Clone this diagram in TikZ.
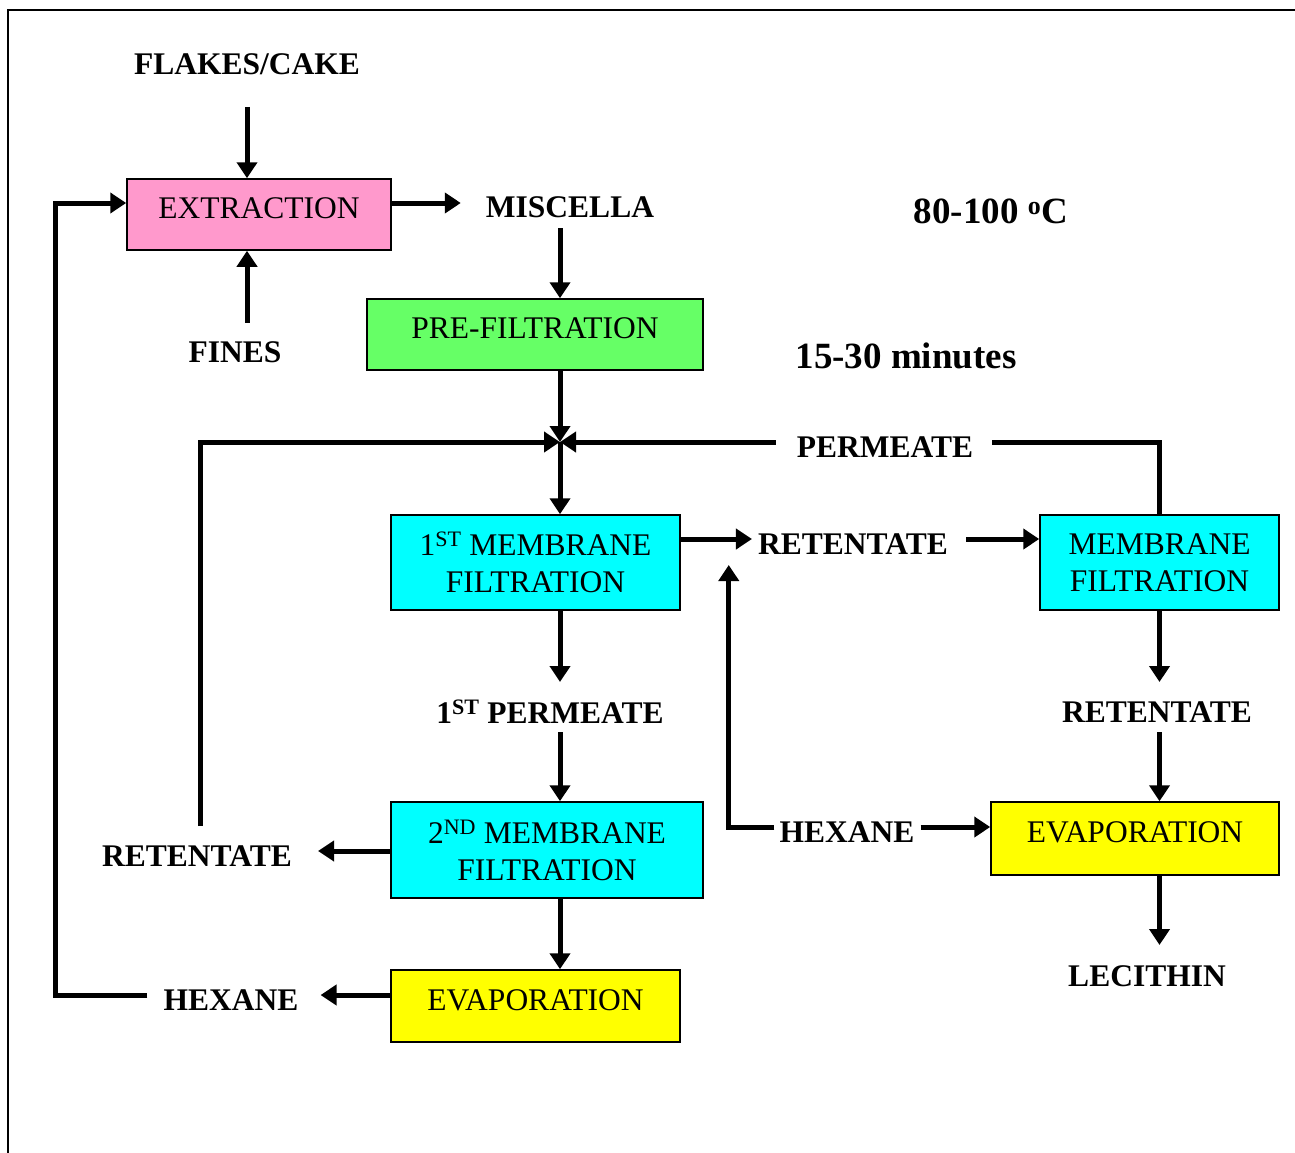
\documentclass[tikz,border=0pt]{standalone}
\usepackage{fontspec}
\setmainfont{Liberation Serif}
\usetikzlibrary{arrows.meta,calc}
\definecolor{pinkbox}{HTML}{FF99CC}
\definecolor{greenbox}{HTML}{66FF66}
\definecolor{cyanbox}{HTML}{00FFFF}
\definecolor{yellowbox}{HTML}{FFFF00}
\begin{document}
\begin{tikzpicture}[x=1pt,y=-1pt,
  box/.style={draw=black,line width=1.5pt,inner sep=0pt,align=center,font=\fontsize{31.5}{37}\selectfont},
  onebox/.style={box,text depth=12pt},
  lbl/.style={inner sep=0pt,font=\fontsize{31.5}{37}\selectfont\bfseries},
  big/.style={inner sep=0pt,font=\fontsize{37}{44}\selectfont\bfseries},
  flow/.style={line width=5pt},
  arr/.style={flow,-{Triangle[length=16pt,width=20pt]}}]
\useasboundingbox (0,0) rectangle (1295,1153);
\draw[line width=2pt] (8,1153) -- (8,10) -- (1295,10);

% boxes
\node[onebox,fill=pinkbox,minimum width=264,minimum height=71] (extr) at (259,214.5) {EXTRACTION};
\node[onebox,fill=greenbox,minimum width=336,minimum height=71] (pre) at (535,334.5) {PRE-FILTRATION};
\node[box,fill=cyanbox,minimum width=289,minimum height=95] (m1) at (535.5,562.5) {1\textsuperscript{ST} MEMBRANE\\FILTRATION};
\node[box,fill=cyanbox,minimum width=239,minimum height=95] (m3) at (1159.5,562.5) {MEMBRANE\\FILTRATION};
\node[box,fill=cyanbox,minimum width=312,minimum height=96] (m2) at (547,850) {2\textsuperscript{ND} MEMBRANE\\FILTRATION};
\node[onebox,fill=yellowbox,minimum width=288,minimum height=73] (evr) at (1135,838.5) {EVAPORATION};
\node[onebox,fill=yellowbox,minimum width=289,minimum height=72] (evl) at (535.5,1006) {EVAPORATION};

% labels
\node[lbl] (flakes) at (247,64) {FLAKES/CAKE};
\node[lbl] (fines) at (235,352) {FINES};
\node[lbl] (misc) at (570,207) {MISCELLA};
\node[big] (temp) at (991,211) {80-100 \textsuperscript{o}C};
\node[big] (time) at (906,356) {15-30 minutes};
\node[lbl] (perm) at (885,447) {PERMEATE};
\node[lbl] (ret1) at (853,544) {RETENTATE};
\node[lbl] (ret2) at (1157,712) {RETENTATE};
\node[lbl] (lec) at (1147,976) {LECITHIN};
\node[lbl] (hexm) at (847,832) {HEXANE};
\node[lbl] (perm1) at (550,712) {1\textsuperscript{ST} PERMEATE};
\node[lbl] (ret3) at (197,856) {RETENTATE};
\node[lbl] (hexl) at (231,1000) {HEXANE};

\coordinate (j) at (560,442);

% connectors
\draw[arr] ($(flakes)+(0,43)$) -- (extr.north -| flakes);
\draw[arr] ($(extr.south -| flakes)+(0,72)$) -- (extr.south -| flakes);
\draw[arr] ($(extr.east)+(0,-11.5)$) -- ($(misc.west)+(-25,-4)$);
\draw[arr] ($(misc)+(-10,21)$) -- (pre.north -| j);
\draw[arr] (pre.south -| j) -- (j);
\draw[arr] (j) -- (m1.north -| j);
\draw[arr] ($(ret3)+(3,-30)$) |- (j);
\draw[flow] (m3.north) |- ($(perm.east)+(19,-5)$);
\draw[arr] ($(perm.west)+(-21,-5)$) -- (j);
\draw[arr] ($(m1.east)+(0,-23.5)$) -- ($(ret1.west)+(-6,-5)$);
\draw[arr] ($(ret1.east)+(18,-5)$) -- ($(m3.west)+(0,-23.5)$);
\draw[arr] (m3.south) -- ($(ret2)+(2.5,-30)$);
\draw[arr] ($(ret2)+(2.5,20)$) -- (evr.north -| m3.south);
\draw[arr] (evr.south -| m3.south) -- ($(lec)+(12.5,-31)$);
\draw[arr] ($(hexm.east)+(6,-5)$) -- ($(evr.west)+(0,-11.5)$);
\draw[arr] ($(hexm.west)+(-5,-5)$) -| ($(m1.east)+(48,2.5)$);
\draw[arr] (m1.south -| j) -- ($(perm1)+(10,-30)$);
\draw[arr] ($(perm1)+(10,20)$) -- (m2.north -| j);
\draw[arr] ($(m2.west)+(0,1)$) -- ($(ret3.east)+(26,-5)$);
\draw[arr] (m2.south -| j) -- (evl.north -| j);
\draw[arr] ($(evl.west)+(0,-11)$) -- ($(hexl.east)+(22,-5)$);
\draw[arr] ($(hexl.west)+(-16,-5)$) -| ($(extr.west)+(-71,-11.5)$) -- ($(extr.west)+(0,-11.5)$);
\end{tikzpicture}
\end{document}
